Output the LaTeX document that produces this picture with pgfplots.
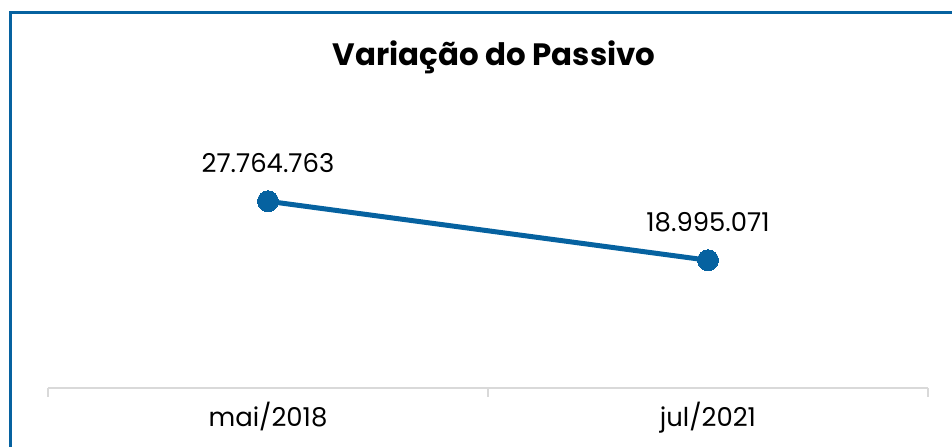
\documentclass[border=0pt]{standalone}
\usepackage{pgfplots}
\pgfplotsset{compat=1.18}
\usepackage{fontspec}
\setmainfont{Poppins}
\definecolor{cblue}{RGB}{6,98,160}
\definecolor{cgray}{RGB}{217,217,217}
\begin{document}
\begin{tikzpicture}
\useasboundingbox (0bp,0bp) rectangle (952bp,447bp);
\draw[cblue, line width=3bp] (10bp,0bp) -- (10bp,434.5bp) -- (952bp,434.5bp);
\node[font=\bfseries\fontsize{31}{36}\selectfont] at (494bp,390bp) {Variação do Passivo};
\begin{axis}[
  at={(48bp,59bp)}, anchor=south west,
  scale only axis, width=880bp, height=269bp,
  xmin=-0.5, xmax=1.5, ymin=0, ymax=40e6,
  hide y axis,
  axis x line=bottom,
  axis line style={cgray, line width=2bp, -},
  xtick={0,1}, xticklabels={mai/2018,jul/2021},
  major tick length=0pt,
  extra x ticks={-0.5,0.5,1.5}, extra x tick labels={},
  extra x tick style={major tick length=9bp, tick align=outside, tick style={cgray, line width=1.5bp}},
  xticklabel style={font=\fontsize{26}{30}\selectfont, yshift=-11bp},
  clip=false,
  point meta=explicit symbolic,
  nodes near coords,
  every node near coord/.append style={font=\fontsize{26}{30}\selectfont, anchor=base, yshift=29bp, text=black},
]
\addplot[cblue, line width=5bp, mark=*, mark size=10.5bp, mark options={fill=cblue, line width=0pt}]
  coordinates {(0,27764763)[27.764.763] (1,18995071)[18.995.071]};
\end{axis}
\end{tikzpicture}
\end{document}
